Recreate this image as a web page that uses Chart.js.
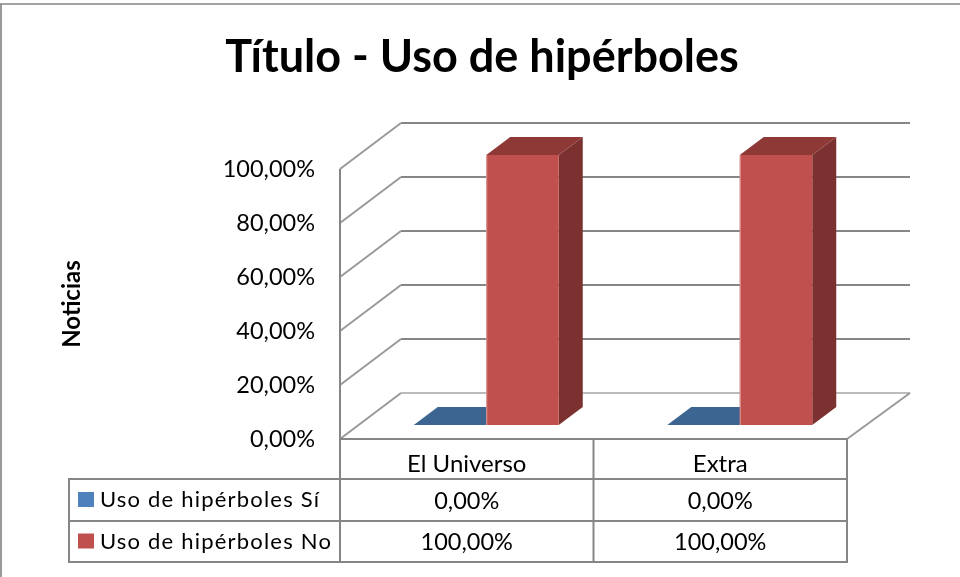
<!DOCTYPE html>
<html lang="es">
<head>
    <meta charset="utf-8">
    <title>Título - Uso de hipérboles</title>
    <script src="https://cdn.jsdelivr.net/npm/chart.js"></script>
    <style>
        html, body { margin: 0; padding: 0; background: #fff; }
        canvas { display: block; }
    </style>
</head>
<body>
    <canvas id="chart" width="960" height="577"></canvas>
    <script>
        const categories = ['El Universo', 'Extra'];
        const seriesNames = ['Uso de hipérboles Sí', 'Uso de hipérboles No'];
        const valuesSi = [0, 0];
        const valuesNo = [100, 100];
        const yTickLabels = ['0,00%', '20,00%', '40,00%', '60,00%', '80,00%', '100,00%'];

        const FONT = 'Lato, "Open Sans", sans-serif';
        const GRID = '#868686';
        const faces = [
            { front: '#4F81BD', top: '#3D6592', side: '#345578' },
            { front: '#C0504D', top: '#8F3937', side: '#7B3130' }
        ];

        function pct(v) {
            return v.toFixed(2).replace('.', ',') + '%';
        }

        function line(ctx, x1, y1, x2, y2, color, width) {
            ctx.strokeStyle = color;
            ctx.lineWidth = width;
            ctx.beginPath();
            ctx.moveTo(x1, y1);
            ctx.lineTo(x2, y2);
            ctx.stroke();
        }

        function poly(ctx, pts, color) {
            ctx.fillStyle = color;
            ctx.beginPath();
            pts.forEach((p, i) => i ? ctx.lineTo(p[0], p[1]) : ctx.moveTo(p[0], p[1]));
            ctx.closePath();
            ctx.fill();
        }

        // offsets of the fake 3d box
        const wallDx = 61, wallDy = -46;
        const barDx = 19.5, barDy = -14;
        const depthDx = 24, depthDy = -18;

        const box3d = {
            id: 'box3d',
            beforeDatasetsDraw(chart) {
                const ctx = chart.ctx;
                const { left, right, top, bottom } = chart.chartArea;
                const y = chart.scales.y;
                ctx.save();
                // outer frame of the picture
                line(ctx, 1, 4, 1, 577, '#9a9a9a', 2);
                line(ctx, 0, 4, 960, 4, GRID, 1.5);

                // walls and floor
                y.ticks.forEach(t => {
                    const py = y.getPixelForValue(t.value);
                    line(ctx, left, py, left + wallDx, py + wallDy, '#999999', 2);
                    line(ctx, left + wallDx, py + wallDy, right + wallDx + 2, py + wallDy,
                        t.value === 0 ? '#a6a6a6' : GRID, t.value === 0 ? 1.5 : 2);
                });
                line(ctx, right, bottom, right + wallDx + 2, bottom + wallDy, '#999999', 2);
                line(ctx, left, top, left, bottom, GRID, 2);

                // tops and sides, fronts come from the bar elements
                chart.data.datasets.forEach((ds, i) => {
                    chart.getDatasetMeta(i).data.forEach(bar => {
                        const { x, y: by, base, width } = bar.getProps(['x', 'y', 'base', 'width'], true);
                        const l = x - width / 2 + barDx, r = x + width / 2 + barDx;
                        const t = by + barDy, b = base + barDy;
                        poly(ctx, [[r, t], [r + depthDx, t + depthDy], [r + depthDx, b + depthDy], [r, b]], faces[i].side);
                        poly(ctx, [[l, t], [l + depthDx, t + depthDy], [r + depthDx, t + depthDy], [r, t]], faces[i].top);
                    });
                });
                ctx.restore();
            },
            beforeDatasetDraw(chart) {
                chart.ctx.save();
                chart.ctx.translate(barDx, barDy);
            },
            afterDatasetDraw(chart, args) {
                const ctx = chart.ctx;
                // pale rim on the left of the tall bars
                args.meta.data.forEach(bar => {
                    const { x, y: by, base, width } = bar.getProps(['x', 'y', 'base', 'width'], true);
                    if (base - by > 1) {
                        line(ctx, x - width / 2 + 0.5, by, x - width / 2 + 0.5, base, '#DE9E9C', 1);
                    }
                });
                ctx.restore();
            }
        };

        const dataTable = {
            id: 'dataTable',
            afterDraw(chart) {
                const ctx = chart.ctx;
                const { left, right, bottom } = chart.chartArea;
                const x = chart.scales.x;
                const rows = [479, 521, 562];
                const tableLeft = 69;
                ctx.save();
                line(ctx, left, bottom, right, bottom, GRID, 2);
                rows.forEach(r => line(ctx, tableLeft, r, right, r, GRID, 2));
                line(ctx, tableLeft, rows[0] - 1, tableLeft, rows[2] + 1, GRID, 2);
                line(ctx, left, bottom, left, rows[2] + 1, GRID, 2);
                const mid = (x.getPixelForValue(0) + x.getPixelForValue(1)) / 2;
                line(ctx, mid, bottom, mid, rows[2] + 1, GRID, 2);
                line(ctx, right, bottom, right, rows[2] + 1, GRID, 2);

                ctx.textBaseline = 'middle';
                chart.data.datasets.forEach((ds, i) => {
                    const cy = (rows[i] + rows[i + 1]) / 2;
                    ctx.fillStyle = faces[i].front;
                    ctx.fillRect(78, cy - 8, 16, 15);
                    ctx.fillStyle = '#000';
                    ctx.textAlign = 'left';
                    ctx.font = '22px ' + FONT;
                    ctx.letterSpacing = '1.2px';
                    ctx.fillText(seriesNames[i], 100, cy);
                    ctx.letterSpacing = '0px';
                    ctx.textAlign = 'center';
                    ctx.font = '23.5px ' + FONT;
                    ds.data.forEach((v, j) => ctx.fillText(pct(v), x.getPixelForValue(j), cy + 1));
                });
                ctx.restore();
            }
        };

        new Chart(document.getElementById('chart'), {
            type: 'bar',
            data: {
                labels: categories,
                datasets: [
                    { label: seriesNames[0], data: valuesSi, backgroundColor: faces[0].front, order: 0 },
                    { label: seriesNames[1], data: valuesNo, backgroundColor: faces[1].front, order: 1 }
                ]
            },
            options: {
                responsive: false,
                animation: false,
                categoryPercentage: 0.572,
                barPercentage: 1,
                // left padding is large so the title centres where it should, axis title pulled back below
                layout: { autoPadding: false, padding: { left: 117, right: 113, top: 0, bottom: 0 } },
                plugins: {
                    legend: { display: false },
                    tooltip: { enabled: false },
                    title: {
                        display: true,
                        text: 'Título - Uso de hipérboles',
                        color: '#000',
                        font: { family: FONT, size: 45, weight: 'bold', lineHeight: 1.2 },
                        padding: { top: 30, bottom: 85 }
                    }
                },
                scales: {
                    x: {
                        grid: { display: false, drawTicks: false },
                        border: { display: false },
                        ticks: { color: '#000', font: { family: FONT, size: 24 }, padding: 11, maxRotation: 0 },
                        afterFit: s => { s.height = 138; }
                    },
                    y: {
                        min: 0,
                        max: 100,
                        grid: { display: false, drawTicks: false },
                        border: { display: false },
                        ticks: {
                            stepSize: 20,
                            color: '#000',
                            font: { family: FONT, size: 23.5 },
                            padding: 25,
                            callback: (v, i) => yTickLabels[i]
                        },
                        title: {
                            display: true,
                            text: 'Noticias',
                            color: '#000',
                            font: { family: FONT, size: 24, weight: 'bold' },
                            padding: { top: -59, bottom: 0 }
                        },
                        afterFit: s => { s.width = 223; }
                    }
                }
            },
            plugins: [box3d, dataTable]
        });
    </script>
</body>
</html>
